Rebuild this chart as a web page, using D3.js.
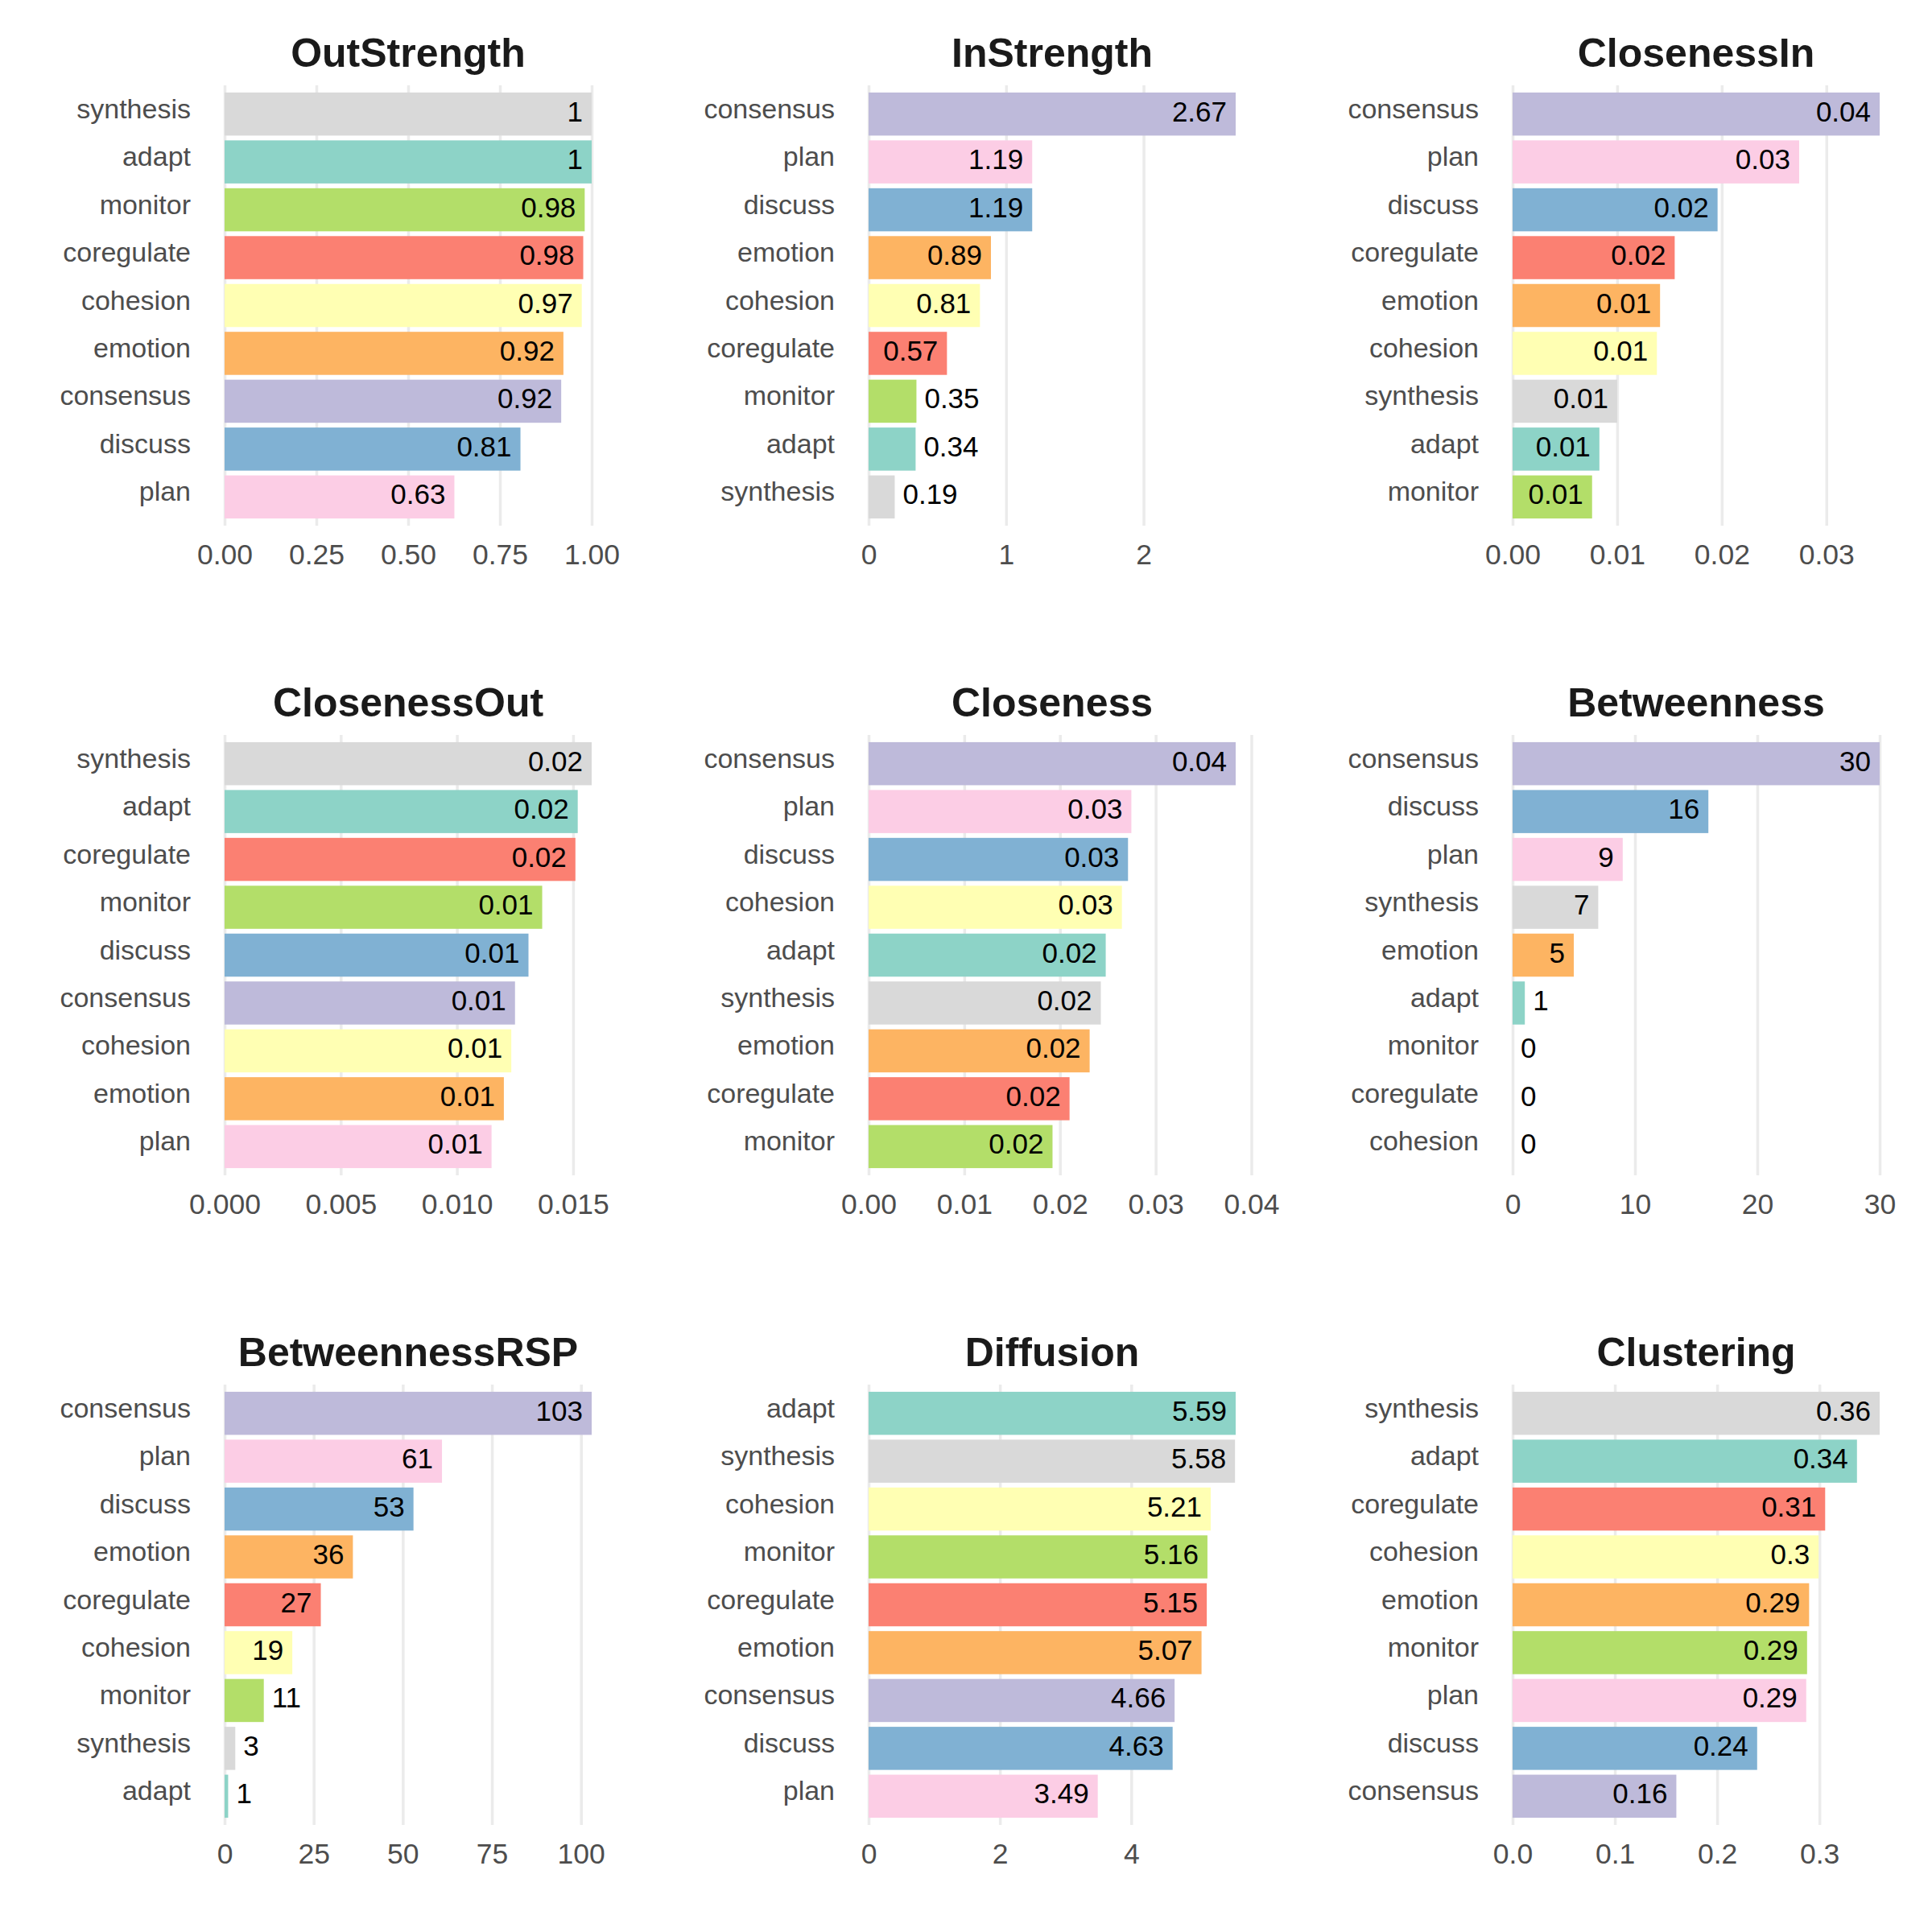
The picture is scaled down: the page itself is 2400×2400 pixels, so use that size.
<!DOCTYPE html>
<html>
<head>
<meta charset="utf-8">
<script src="https://cdn.jsdelivr.net/npm/d3@7"></script>
<style>
  body { margin: 0; background: #fff; }
  text { font-family: "Liberation Sans", Arial, sans-serif; }
</style>
</head>
<body>
<div id="chart"></div>
<script>

// nodes in alphabetical order, Set3 colours follow the same order
var nodes = ["adapt", "cohesion", "consensus", "coregulate", "discuss", "emotion", "monitor", "plan", "synthesis"];
var nodeColors = ["#8DD3C7", "#FFFFB3", "#BEBADA", "#FB8072", "#80B1D3", "#FDB462", "#B3DE69", "#FCCDE5", "#D9D9D9"];

var measures = ["OutStrength", "InStrength", "ClosenessIn", "ClosenessOut", "Closeness", "Betweenness", "BetweennessRSP", "Diffusion", "Clustering"];

// values per measure, same order as nodes
var outStrength    = [1.0, 0.973, 0.917, 0.977, 0.806, 0.923, 0.981, 0.626, 1.0];
var inStrength     = [0.342, 0.81, 2.67, 0.57, 1.19, 0.89, 0.348, 1.19, 0.19];
var closenessIn    = [0.0083, 0.0138, 0.0351, 0.0155, 0.0196, 0.0141, 0.0076, 0.0274, 0.0100];
var closenessOut   = [0.0152, 0.01234, 0.0125, 0.0151, 0.01308, 0.01202, 0.01367, 0.01149, 0.0158];
var closeness      = [0.02478, 0.02647, 0.03836, 0.0210, 0.02711, 0.0231, 0.01922, 0.02746, 0.02427];
var betweenness    = [1, 0, 30, 0, 16, 5, 0, 9, 7];
var betweennessRSP = [1, 19, 103, 27, 53, 36, 11, 61, 3];
var diffusion      = [5.59, 5.21, 4.66, 5.15, 4.63, 5.07, 5.16, 3.49, 5.58];
var clustering     = [0.3367, 0.2992, 0.1601, 0.3056, 0.2391, 0.2899, 0.2879, 0.2871, 0.3589];

// x axis ticks per measure
var outStrengthTicks    = [0, 0.25, 0.5, 0.75, 1];
var inStrengthTicks     = [0, 1, 2];
var closenessInTicks    = [0, 0.01, 0.02, 0.03];
var closenessOutTicks   = [0, 0.005, 0.01, 0.015];
var closenessTicks      = [0, 0.01, 0.02, 0.03, 0.04];
var betweennessTicks    = [0, 10, 20, 30];
var betweennessRSPTicks = [0, 25, 50, 75, 100];
var diffusionTicks      = [0, 2, 4];
var clusteringTicks     = [0, 0.1, 0.2, 0.3];

var tickFormats = [".2f", "d", ".2f", ".3f", ".2f", "d", "d", "d", ".1f"];

var allValues = [outStrength, inStrength, closenessIn, closenessOut, closeness, betweenness, betweennessRSP, diffusion, clustering];
var allTicks = [outStrengthTicks, inStrengthTicks, closenessInTicks, closenessOutTicks, closenessTicks, betweennessTicks, betweennessRSPTicks, diffusionTicks, clusteringTicks];


var svgWidth = 2400;
var svgHeight = 2400;

var colStep = 800;
var rowStep = 807;
var left0 = 279;
var top0 = 106;
var plotHeight = 547;
var maxBarWidth = 456;
var plotWidth = maxBarWidth * 1.05;

var svg = d3.select("#chart")
    .append("svg")
    .attr("width", svgWidth)
    .attr("height", svgHeight)
    .style("background", "#fff");

function labelText(v) {
    return String(Math.round(v * 100) / 100);
}

measures.forEach(function(measure, i) {

    var col = i % 3;
    var row = Math.floor(i / 3);
    var values = allValues[i];

    // sort descending, ties: later name on top
    var data = nodes.map(function(n, j) {
        return { name: n, value: values[j], color: nodeColors[j] };
    });
    data.sort(function(a, b) {
        if (b.value !== a.value) return b.value - a.value;
        return d3.descending(a.name, b.name);
    });

    var maxValue = d3.max(data, d => d.value);

    var chartGroup = svg.append("g")
        .attr("transform", `translate(${left0 + col * colStep}, ${top0 + row * rowStep})`);

    var xScale = d3.scaleLinear()
        .domain([0, maxValue * 1.05])
        .range([0, plotWidth]);

    var yScale = d3.scaleBand()
        .domain(data.map(d => d.name))
        .range([0, plotHeight])
        .paddingInner(0.1)
        .paddingOuter(0.15);

    // vertical grid lines
    var grid = chartGroup.append("g")
        .attr("transform", `translate(0, ${plotHeight})`)
        .call(d3.axisBottom(xScale).tickValues(allTicks[i]).tickSize(-plotHeight).tickFormat(""));
    grid.select(".domain").remove();
    grid.selectAll("line")
        .attr("stroke", "#EBEBEB")
        .attr("stroke-width", 3.5);

    // bars
    chartGroup.selectAll("rect.bar")
        .data(data)
        .enter()
        .append("rect")
        .attr("class", "bar")
        .attr("x", 0)
        .attr("y", d => yScale(d.name))
        .attr("width", d => xScale(d.value))
        .attr("height", yScale.bandwidth())
        .attr("fill", d => d.color);

    // value labels
    chartGroup.selectAll("text.val")
        .data(data)
        .enter()
        .append("text")
        .attr("class", "val")
        .attr("x", function(d) {
            if (d.value >= 0.15 * maxValue) return xScale(d.value) - 11;
            return xScale(d.value) + 10;
        })
        .attr("y", d => yScale(d.name) + yScale.bandwidth() / 2 + 9)
        .attr("text-anchor", d => d.value >= 0.15 * maxValue ? "end" : "start")
        .attr("font-size", "35px")
        .attr("fill", "#000")
        .text(d => labelText(d.value));

    // x tick labels
    var xAxis = chartGroup.append("g")
        .attr("transform", `translate(0, ${plotHeight})`)
        .call(d3.axisBottom(xScale).tickValues(allTicks[i]).tickSize(0).tickFormat(d3.format(tickFormats[i])));
    xAxis.select(".domain").remove();
    xAxis.selectAll("text")
        .attr("y", 48)
        .attr("dy", null)
        .attr("font-size", "35.5px")
        .attr("font-family", null)
        .attr("fill", "#4D4D4D");

    // category labels
    var yAxis = chartGroup.append("g")
        .call(d3.axisLeft(yScale).tickSize(0).tickPadding(42));
    yAxis.select(".domain").remove();
    yAxis.selectAll("text")
        .attr("dy", "5px")
        .attr("font-size", "34px")
        .attr("font-family", null)
        .attr("fill", "#4D4D4D");

    // title
    chartGroup.append("text")
        .attr("x", maxBarWidth / 2)
        .attr("y", -23)
        .attr("text-anchor", "middle")
        .attr("font-size", "50px")
        .attr("font-weight", "bold")
        .attr("fill", "#1A1A1A")
        .text(measure);
});

</script>
</body>
</html>
